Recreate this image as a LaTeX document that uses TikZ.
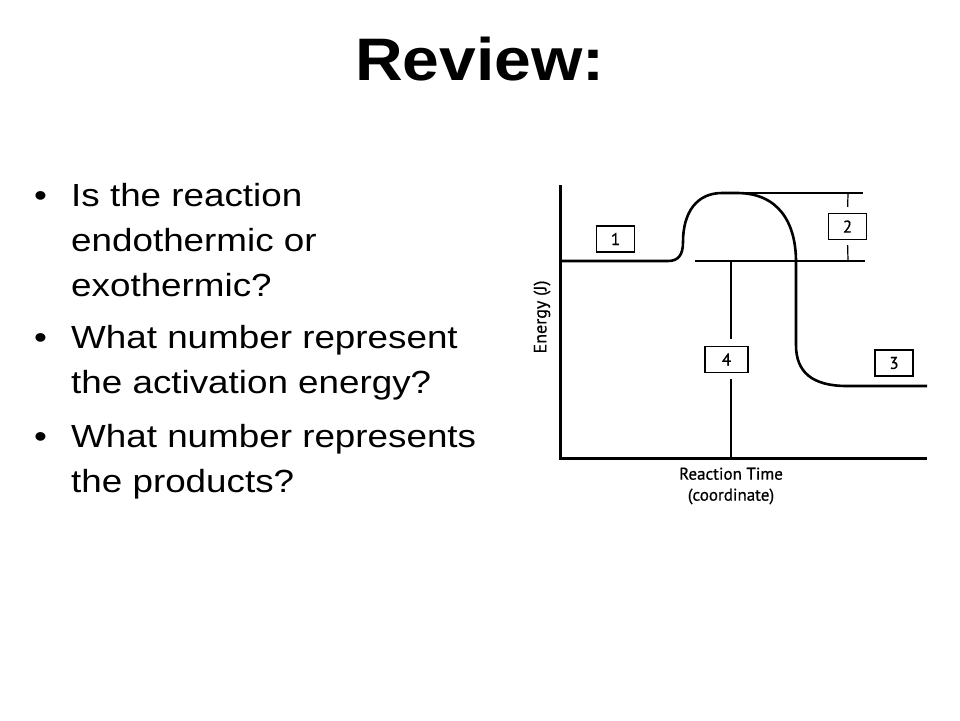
\documentclass[tikz,border=0pt]{standalone}
\usepackage{fontspec}
\setmainfont{Liberation Sans}
\newfontfamily\bodyfont[FakeStretch=1.15]{Liberation Sans}
\newfontfamily\headfont[FakeStretch=1.1]{Liberation Sans}
\newfontfamily\figfont[FakeBold=0.6]{PT Sans}
\usepackage{tikz}

\tikzset{
  numbox/.style={draw, line width=1.3pt, minimum width=38pt, minimum height=26pt,
    inner sep=0pt, font=\figfont\fontsize{17}{17}\selectfont},
  bul/.style={anchor=base west, inner sep=0pt, font=\bodyfont\fontsize{32}{32}\selectfont},
  thin/.style={line width=1.2pt},
}

\begin{document}
\begin{tikzpicture}[x=1pt, y=-1pt]
    \useasboundingbox (0,0) rectangle (960,720);

    %% title
    \node[anchor=base, inner sep=0pt, font=\headfont\bfseries\fontsize{60}{60}\selectfont] (title) at (480,80) {Review:};

    %% the questions
    \node[bul] (d1) at (34,206) {\textbullet};
    \node[bul] (q1a) at (71,206) {Is the reaction};
    \node[bul] (q1b) at (71,251) {endothermic or};
    \node[bul] (q1c) at (71,296) {exothermic?};
    \node[bul] (d2) at (34,348) {\textbullet};
    \node[bul] (q2a) at (71,348) {What number represent};
    \node[bul] (q2b) at (71,393) {the activation energy?};
    \node[bul] (d3) at (34,447) {\textbullet};
    \node[bul] (q3a) at (71,447) {What number represents};
    \node[bul] (q3b) at (71,492) {the products?};

    %% axes
    \coordinate (top) at (560,185);
    \coordinate (origin) at (560,458);
    \coordinate (right) at (927,458);
    \draw[line width=3pt] (top) -- (origin) -- (right);
    \node[rotate=90, font=\figfont\fontsize{18}{18}\selectfont] (ylab) at (542,317) {Energy (J)};
    \node[font=\figfont\fontsize{17}{17}\selectfont, align=center] (xlab) at (731,486)
      {Reaction Time\\[4pt](coordinate)};

    %% the energy curve
    \coordinate (react) at (560,261);
    \coordinate (peak) at (737,193);
    \coordinate (prod) at (927,386);
    \draw[line width=2.6pt, line join=round] (react) -- (668,261)
      .. controls (679,261) and (683,254) .. (683,242)
      .. controls (683,212) and (697,193) .. (722,193) -- (peak)
      .. controls (778,193) and (796,222) .. (796,262) -- (796,345)
      .. controls (796,372) and (812,386) .. (847,386) -- (prod);

    %% the level lines
    \coordinate (peakend) at (863,193);
    \coordinate (midstart) at (695,261);
    \coordinate (midend) at (865,261);
    \coordinate (foot) at (731,458);
    \draw[thin] (peak) -- (peakend);
    \draw[thin] (midstart) -- (midend);

    %% the numbered boxes
    \node[numbox] (b1) at (615.5,239) {1};
    \node[numbox] (b2) at (847.5,226.5) {2};
    \node[numbox] (b3) at (894,363) {3};
    \node[numbox, minimum width=43pt] (b4) at (726.5,359.5) {4};

    %% the marks to the boxes
    \draw[thin, shorten >=6pt] (848,193) -- (b2.north);
    \draw[thin, shorten >=5pt] (848,261) -- (b2.south);
    \draw[thin, shorten >=7pt] (731,261) -- (b4.north -| foot);
    \draw[thin, shorten >=6pt] (foot) -- (b4.south -| foot);
\end{tikzpicture}
\end{document}
